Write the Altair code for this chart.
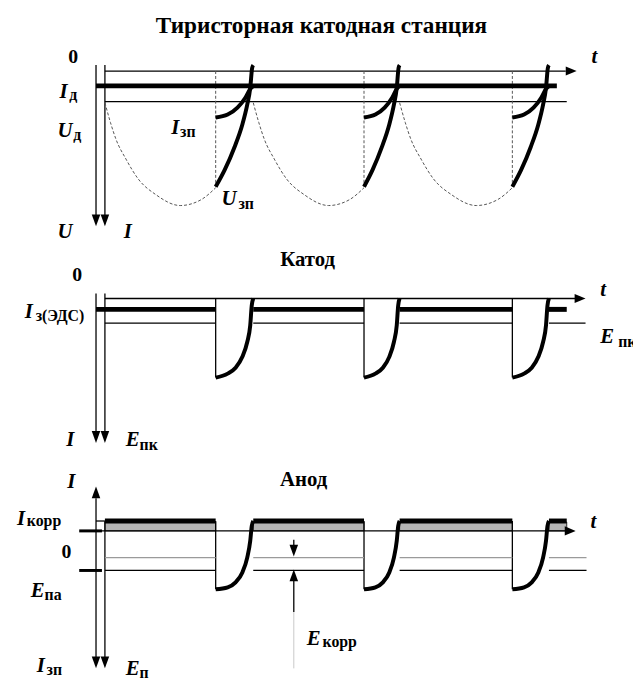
import altair as alt
import pandas as pd

# ---------------- data (pixel-like units) ----------------
title_text = "Тиристорная катодная станция"
heading_texts = [("Катод", 311, 265), ("Анод", 307, 488)]

pulse_start = [218, 368, 518]          # pulse onsets (dashed lines)
pulse_end = [256, 404, 555]            # pulse ends
seg_start = [106, 256, 404, 555]       # steady segments start
seg_end = [218, 368, 518, 573]         # steady segments end

# top panel (thyristor station)
top_axis_y, top_Id_y, top_Ud_y = 68, 83, 99
# dashed discharge parabola: fraction of segment, y
par_u = [0.0, 0.05, 0.10, 0.19, 0.30, 0.46, 0.68, 0.87, 1.0]
par_y = [100, 120, 137, 157, 177, 193, 204, 198, 186]
# U_зп thick curve: fraction of pulse width, y
uzp_u = [0.0, 0.24, 0.50, 0.71, 0.84, 0.92, 0.97, 1.0]
uzp_y = [185, 168, 145, 122, 102, 85, 65, 62]
# I_зп thick curve
izp_u = [0.0, 0.32, 0.58, 0.79, 0.92, 1.0]
izp_y = [115, 112, 105, 95, 86, 83]

# middle panel (cathode)
mid_axis_y, mid_I_y, mid_E_y, mid_bottom = 298, 309, 323, 378
cat_u = [0.0, 0.32, 0.53, 0.71, 0.84, 0.92, 0.96, 1.0]
cat_y = [378, 374, 368, 357, 342, 325, 305, 298]

# bottom panel (anode)
bot_bar_top, bot_axis_y, bot_gray_y, bot_E_y, bot_bottom = 523, 533, 560, 573, 592
an_u = [0.0, 0.32, 0.53, 0.71, 0.84, 0.92, 0.96, 1.0]
an_y = [592, 590, 585, 575, 560, 543, 528, 523]

main_labels = [("I", 60, 95), ("U", 58, 135), ("I", 173, 132), ("U", 224, 203),
               ("U", 58, 237), ("I", 125, 237), ("t", 598, 60),
               ("I", 25, 318), ("E", 607, 343), ("I", 67, 447), ("E", 127, 447), ("t", 607, 295),
               ("I", 68, 490), ("I", 17, 527), ("E", 31, 600), ("I", 37, 676), ("E", 127, 679),
               ("E", 310, 648), ("t", 597, 530)]
sub_labels = [("д", 70, 97), ("д", 74, 138), ("зп", 182, 135), ("зп", 241, 207),
              ("з(ЭДС)", 36, 321), ("пк", 625, 347), ("пк", 141, 451),
              ("корр", 27, 528), ("па", 45, 603), ("зп", 47, 679), ("п", 141, 682),
              ("корр", 326, 650)]
zero_labels = [("0", 74, 60), ("0", 78, 280), ("0", 67, 560)]

SERIF = "Liberation Serif, DejaVu Serif, Times New Roman, serif"

# ---------------- build tables ----------------
SX = alt.Scale(domain=[8, 640], nice=False, zero=False)
SY = alt.Scale(domain=[8, 678], reverse=True, nice=False, zero=False)


def X(f="x"):
    return alt.X(f"{f}:Q", scale=SX, axis=None)


def Y(f="y"):
    return alt.Y(f"{f}:Q", scale=SY, axis=None)


def rules_df(segs):
    return pd.DataFrame(segs, columns=["x1", "y1", "x2", "y2"])


thin = [
    (106, top_axis_y, 572, top_axis_y), (106, top_Ud_y, 573, top_Ud_y),
    (97, 62, 97, 214), (106, 62, 106, 214),
    (106, mid_axis_y, 582, mid_axis_y), (97, 293, 97, 433), (106, 293, 106, 433),
    (97, bot_axis_y, 572, bot_axis_y), (97, bot_bar_top, 106, bot_bar_top),
    (97, 500, 97, 661), (106, bot_bar_top, 106, 661),
    (297, 542, 297, 549), (297, 583, 297, 615),
]
for s, e in zip(seg_start, seg_end):
    thin.append((s, mid_E_y, e if e != 573 else 592, mid_E_y))
    thin.append((s, bot_E_y, e if e != 573 else 593, bot_E_y))
for p in pulse_start:
    thin.append((p, mid_axis_y, p, mid_bottom))
    thin.append((p, bot_bar_top, p, bot_bottom))

gray = [(297, 615, 297, 672)]
gray_mid = [(s, bot_gray_y, e if e != 573 else 593, bot_gray_y) for s, e in zip(seg_start, seg_end)]

thick = [(97, top_Id_y, 563, top_Id_y)]
for s, e in zip(seg_start, seg_end):
    thick.append((97 if s == 106 else s, mid_I_y, e, mid_I_y))
    thick.append((s, bot_bar_top, e, bot_bar_top))
ticks = [(80, bot_axis_y, 103, bot_axis_y), (80, bot_E_y, 103, bot_E_y)]

dashed_v = [(p, top_axis_y, p, 185) for p in pulse_start]

curves = []
dashed_curves = []
for i, (s, p) in enumerate(zip(seg_start[:3], pulse_start)):
    for j, (u, y) in enumerate(zip(par_u, par_y)):
        dashed_curves.append({"x": s + u * (p - s), "y": y, "k": f"p{i}", "o": j})
for i, (p, e) in enumerate(zip(pulse_start, pulse_end)):
    for name, us, ys in (("u", uzp_u, uzp_y), ("i", izp_u, izp_y),
                         ("c", cat_u, cat_y), ("a", an_u, an_y)):
        for j, (u, y) in enumerate(zip(us, ys)):
            curves.append({"x": p + u * (e - p), "y": y, "k": f"{name}{i}", "o": j})

bars = pd.DataFrame({"x1": seg_start, "x2": seg_end,
                     "y1": [bot_bar_top + 1] * 4, "y2": [bot_axis_y] * 4})

down_pts = pd.DataFrame({"x": [97, 106, 97, 106, 97, 106, 297],
                         "y": [225, 225, 444, 444, 672, 672, 559]})
right_pts = pd.DataFrame({"x": [583, 592, 582], "y": [top_axis_y, mid_axis_y, bot_axis_y]})
up_pts = pd.DataFrame({"x": [97, 297], "y": [488, 572]})


def rule_layer(segs, width, color="black", dash=None):
    kw = dict(strokeWidth=width, color=color)
    if dash:
        kw["strokeDash"] = dash
    return alt.Chart(rules_df(segs)).mark_rule(**kw).encode(
        x=X("x1"), x2="x2:Q", y=Y("y1"), y2="y2:Q")


def text_layer(items, **kw):
    df = pd.DataFrame(items, columns=["t", "x", "y"])
    return alt.Chart(df).mark_text(font=SERIF, baseline="alphabetic", **kw).encode(
        x=X(), y=Y(), text="t:N")


layers = [
    alt.Chart(bars).mark_rect(fill="#b4b4b4", stroke="black", strokeWidth=0.8).encode(
        x=X("x1"), x2="x2:Q", y=Y("y1"), y2="y2:Q"),
    rule_layer(thin, 1.3),
    rule_layer(gray_mid, 1.3, "#9a9a9a"),
    rule_layer(gray, 1, "#c8c8c8"),
    rule_layer(dashed_v, 1, "#555555", [3, 2]),
    rule_layer(thick, 5),
    rule_layer(ticks, 3),
    alt.Chart(pd.DataFrame(dashed_curves)).mark_line(
        color="#555555", strokeWidth=1, strokeDash=[3, 2], interpolate="monotone").encode(
        x=X(), y=Y(), detail="k:N", order="o:Q"),
    alt.Chart(pd.DataFrame(curves)).mark_line(
        color="black", strokeWidth=4, interpolate="monotone").encode(
        x=X(), y=Y(), detail="k:N", order="o:Q"),
    alt.Chart(down_pts).mark_point(shape="M-0.36,-1L0.36,-1L0,0Z", size=576, filled=True,
                                   color="black", opacity=1, strokeWidth=0).encode(x=X(), y=Y()),
    alt.Chart(up_pts).mark_point(shape="M-0.36,1L0.36,1L0,0Z", size=576, filled=True,
                                 color="black", opacity=1, strokeWidth=0).encode(x=X(), y=Y()),
    alt.Chart(right_pts).mark_point(shape="M-1,-0.42L-1,0.42L0,0Z", size=484, filled=True,
                                    color="black", opacity=1, strokeWidth=0).encode(x=X(), y=Y()),
    text_layer([(title_text, 325, 30)], fontSize=23.5, fontWeight="bold", align="center"),
    text_layer(heading_texts, fontSize=21, fontWeight="bold", align="center"),
    text_layer(zero_labels, fontSize=20, fontWeight="bold", align="center"),
    text_layer(main_labels, fontSize=21, fontWeight="bold", fontStyle="italic", align="left"),
    text_layer(sub_labels, fontSize=16, fontWeight="bold", align="left"),
]

chart = alt.layer(*layers).properties(
    width=632, height=670, padding=0, autosize=alt.AutoSizeParams(type="none")
).configure_view(stroke=None)

chart.save("out.html", embed_options={"renderer": "svg", "actions": False})
